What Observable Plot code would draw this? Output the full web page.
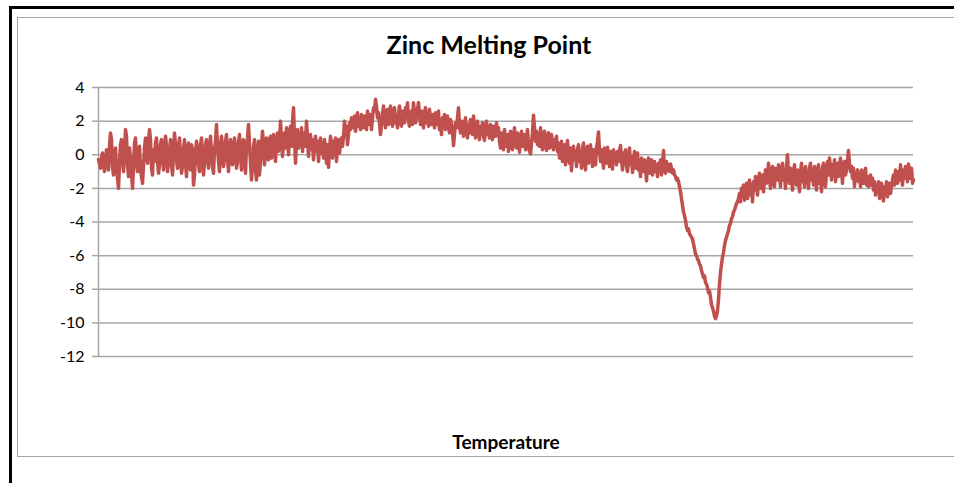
<!DOCTYPE html>
<html>
<head>
<meta charset="utf-8">
<script src="https://cdn.jsdelivr.net/npm/d3@7"></script>
<script src="https://cdn.jsdelivr.net/npm/@observablehq/plot@0.6"></script>
<style>
  html, body { margin: 0; padding: 0; background: #fff; }
  #wrap { position: relative; width: 954px; height: 483px; overflow: hidden; font-family: Lato, "Open Sans", sans-serif; }
  #wrap svg { position: absolute; left: 0; top: 0; }
  .edge { position: absolute; }
  #title { position: absolute; left: 0; width: 978px; top: 29px; text-align: center; font-weight: 700; font-size: 25px; color: #000; }
  #xlabel { position: absolute; left: 0; width: 1012px; top: 430px; text-align: center; font-weight: 700; font-size: 19px; color: #000; }
</style>
</head>
<body>
<div id="wrap">
  <div class="edge" style="left:9px;top:6px;width:960px;height:3px;background:#000"></div>
  <div class="edge" style="left:9px;top:6px;width:3px;height:480px;background:#000"></div>
  <div class="edge" style="left:17px;top:17px;width:960px;height:440px;border:1.5px solid #a6a6a6;box-sizing:border-box"></div>
  <div id="chart"></div>
  <div id="title">Zinc Melting Point</div>
  <div id="xlabel">Temperature</div>
</div>
<script>
// Heat-flow signal recorded while heating a zinc sample (one reading per step)
const signal = [
  -0.3, -0.5, -0.8, -0.2, 0.1, -0.6, -1.0, -0.4, 0.3, -0.2, -0.9, 0.5, 1.3, 0.9, -0.7, -1.2, -0.3, 0.4, -0.8, -1.4,
  -2.0, -0.5, 0.6, 0.9, -0.3, -1.0, 0.2, 1.5, 1.1, -0.6, -1.3, 0.4, -0.2, -1.1, -2.0, -0.8, 0.7, 1.0, -0.4, -1.0,
  -0.2, 0.5, -0.9, -1.3, -1.7, -0.6, 0.4, 1.0, 0.2, -0.5, 0.8, 1.5, 0.9, -0.8, -1.2, 0.3, -0.4, 0.7, 1.0, -0.3,
  -1.1, -0.6, 0.6, 0.9, -0.2, -0.9, 0.4, 1.1, 0.5, -1.0, -0.4, 0.2, 0.9, -0.6, -1.2, 0.1, 1.3, 0.6, -0.3, -0.8,
  0.5, 1.0, -0.2, -1.1, -0.7, 0.4, 0.9, -0.5, -1.3, 0.2, 0.7, -0.4, -0.9, 0.6, 0.3, -1.8, -1.2, 0.1, 0.8, 0.4,
  -0.6, -1.0, 0.5, 1.0, -0.3, -1.2, -0.5, 0.6, 0.9, -0.2, -0.8, 0.4, 1.1, 0.2, -0.7, -1.1, 0.3, 0.8, 1.8, 0.5,
  -0.4, -1.0, 0.6, 1.1, 0.2, -0.7, -0.2, 0.8, 1.2, -0.3, -1.0, 0.1, 0.9, 0.5, -0.6, -0.1, 1.0, 0.3, -0.8, -0.4,
  0.7, 1.2, 0.0, -0.9, 0.4, 0.9, -0.3, -1.1, 0.5, 1.0, 1.8, 0.6, -0.5, -1.5, -0.6, 0.5, 0.9, -0.9, -1.5, 0.2,
  0.8, -1.2, -0.4, 0.6, 1.4, 0.7, -0.6, 0.2, 1.0, 0.4, -0.3, 0.9, 1.1, -0.2, 0.5, 1.2, 0.3, -0.4, 0.8, 1.3,
  0.2, 0.7, 2.0, 0.9, -0.1, 0.6, 1.3, 0.4, 1.6, 0.8, 0.0, 1.2, 1.7, 0.5, 1.9, 2.8, 1.0, -0.5, 0.8, 1.5,
  0.4, 1.1, 0.6, 1.6, 0.2, 0.9, 1.3, 0.5, 2.0, 1.0, -0.1, 0.7, 1.2, 0.3, 0.9, -0.3, 0.6, 1.1, 0.2, 0.8,
  -0.4, 0.5, 1.0, 0.1, 0.7, -0.2, 0.9, 0.4, -0.5, 0.6, -0.75, 0.3, 1.1, 0.5, -0.2, 0.8, 0.2, 1.0, -0.4, 0.5,
  0.9, 0.1, 0.7, 1.0, 0.5, 1.1, 2.0, 1.4, 1.7, 0.6, 1.2, 1.9, 1.5, 2.2, 1.6, 1.9, 2.3, 1.4, 2.0, 2.5,
  1.7, 2.2, 1.5, 2.4, 1.9, 1.6, 2.3, 2.0, 1.5, 2.6, 2.1, 1.8, 2.4, 1.5, 2.2, 2.8, 2.6, 3.3, 2.9, 2.2,
  2.5, 1.9, 1.2, 1.8, 2.4, 2.9, 2.1, 1.6, 2.3, 2.7, 1.8, 2.2, 2.9, 2.0, 1.7, 2.5, 2.8, 1.9, 2.2, 1.6,
  2.4, 2.9, 2.0, 1.7, 2.6, 2.2, 1.9, 2.8, 2.4, 3.1, 2.0, 1.7, 2.3, 2.6, 1.8, 3.1, 2.5, 1.9, 2.2, 2.7,
  3.1, 2.4, 1.8, 2.6, 2.1, 1.6, 2.5, 2.8, 1.9, 2.3, 1.7, 2.7, 2.2, 1.8, 2.4, 2.0, 1.6, 2.5, 2.1, 1.8,
  2.6, 1.5, 1.9, 1.2, 2.2, 1.7, 2.4, 1.5, 1.9, 2.3, 1.6, 1.3, 2.1, 1.8, 1.4, 0.55, 1.2, 1.9, 1.6, 2.2,
  2.8, 1.7, 1.3, 2.0, 1.5, 1.1, 1.9, 2.2, 1.4, 1.0, 1.8, 1.3, 2.1, 1.6, 1.2, 2.3, 1.7, 1.0, 1.6, 2.0,
  1.3, 0.9, 1.7, 1.4, 1.9, 1.1, 0.85, 1.6, 2.0, 1.2, 1.5, 1.0, 1.8, 1.3, 0.9, 1.7, 1.4, 1.1, 1.9, 1.2,
  1.6, 0.8, 0.4, 1.3, 1.0, 0.3, 1.5, 0.9, 0.5, 1.2, 0.2, 0.8, 1.4, 0.6, 0.3, 1.1, 1.6, 0.7, 0.4, 1.3,
  0.9, 0.15, 1.0, 1.4, 0.5, 0.8, 1.2, 0.3, 0.9, 1.5, 0.6, 0.2, 0.05, 0.7, 1.3, 2.35, 1.6, 0.8, 1.4, 0.6,
  1.2, 0.5, 1.6, 0.9, 0.3, 1.1, 1.4, 0.6, 0.25, 1.0, 1.3, 0.4, 0.8, 1.2, 0.5, 0.3, 0.9, 0.6, 1.1, 0.2,
  0.7, -0.2, 0.4, 0.8, -0.4, 0.1, 0.6, -0.6, 0.3, 0.85, -0.1, -0.5, 0.4, -0.95, 0.0, 0.5, -0.3, 0.2, -0.7, 0.3,
  0.6, -0.4, 0.1, -0.8, 0.4, 0.7, -0.3, -0.9, 0.2, 0.5, -0.5, 0.0, 0.6, -0.2, -0.7, 0.3, 0.1, -0.6, 0.4, 0.8,
  1.35, 0.2, -0.4, 0.3, -0.2, -0.8, 0.4, 0.1, -0.5, 0.45, -0.1, -0.7, 0.2, -0.3, -0.85, 0.3, -0.2, 0.1, -0.6, 0.2,
  -0.4, 0.2, 0.55, -0.3, -0.9, 0.1, -0.5, 0.3, -0.7, -1.0, -0.2, 0.4, -0.6, -0.1, -1.05, -0.4, 0.2, -0.8, -0.3, 0.1,
  -0.9, -0.5, -1.3, -0.2, -0.7, -1.0, -0.3, -0.8, -1.55, -0.5, -0.2, -1.1, -0.6, -0.3, -1.2, -0.8, -0.4, -1.0, -0.6, -1.3,
  -0.5, -0.9, -0.3, -1.2, -0.6, 0.25, -0.8, -1.1, -0.4, -0.9, -0.6, -1.0, -0.55, -0.8, -1.1, -0.9, -1.2, -1.3, -1.5, -1.4,
  -1.6, -1.9, -2.2, -2.6, -3.0, -3.4, -3.6, -3.9, -4.3, -4.5, -4.4, -4.7, -4.8, -4.9, -5.0, -5.3, -5.6, -5.9, -6.0, -6.2,
  -6.3, -6.5, -6.6, -6.9, -7.1, -7.3, -7.2, -7.6, -7.7, -7.9, -8.2, -8.1, -8.5, -8.9, -9.1, -9.3, -9.6, -9.75, -9.6, -9.3,
  -8.6, -7.7, -7.0, -6.5, -6.1, -5.8, -5.4, -5.1, -4.9, -4.7, -4.5, -4.2, -4.1, -3.8, -3.7, -3.4, -3.3, -3.1, -2.9, -2.8,
  -2.6, -2.3, -2.8, -2.0, -2.5, -1.8, -2.7, -2.2, -1.7, -2.6, -2.0, -1.5, -2.4, -1.8, -2.8, -1.6, -2.1, -1.3, -1.9, -2.4,
  -1.4, -1.1, -2.0, -1.6, -1.2, -2.2, -1.5, -0.9, -1.7, -1.3, -0.5, -1.4, -2.0, -1.0, -0.7, -1.6, -1.9, -0.8, -1.2, -1.5,
  -0.6, -1.3, -1.9, -0.9, -0.5, -1.5, -1.1, -2.0, -0.7, 0.0, -1.2, -1.7, -0.8, -1.4, -2.1, -1.0, -0.6, -1.5, -1.8, -0.9,
  -1.3, -2.2, -1.1, -0.5, -1.6, -1.0, -1.9, -0.7, -1.4, -1.1, -2.0, -0.8, -0.5, -1.5, -1.2, -1.8, -0.7, -1.3, -2.1, -1.0,
  -0.6, -1.7, -1.2, -2.2, -0.8, -0.5, -1.4, -1.9, -1.0, -0.4, -1.2, -0.2, -0.8, -1.5, -0.6, -1.1, -0.3, -1.6, -0.9, -0.5,
  -1.3, -0.7, -0.2, -1.0, -1.7, -0.6, -0.4, -1.2, -0.9, -0.3, 0.25, -0.5, -1.0, -0.7, -1.4, -0.8, -1.9, -1.1, -1.5, -0.9,
  -1.6, -1.1, -1.9, -0.9, -1.4, -1.7, -1.2, -0.8, -1.8, -1.3, -1.9, -1.5, -1.2, -1.8, -1.4, -2.1, -1.6, -2.4, -1.9, -2.2,
  -1.6, -2.6, -2.0, -1.7, -2.3, -2.75, -1.9, -2.2, -1.6, -2.5, -2.0, -1.7, -2.3, -1.9, -1.5, -1.2, -1.8, -0.9, -1.4, -1.7,
  -1.0, -1.5, -0.6, -1.3, -1.8, -0.9, -1.4, -0.7, -1.2, -1.6, -0.55, -1.0, -1.4, -0.8, -1.7, -1.5
];

// Value axis ticks
const yTicks = [4, 2, 0, -2, -4, -6, -8, -10, -12];

const steps = signal.map((_, i) => i);

const chart = Plot.plot({
  width: 954,
  height: 483,
  marginLeft: 98,
  marginRight: 41,
  marginTop: 87,
  marginBottom: 127,
  style: { background: "transparent", fontFamily: "Lato, 'Open Sans', sans-serif" },
  x: { domain: [0, signal.length - 1], axis: null },
  y: { domain: [-12, 4] },
  marks: [
    Plot.ruleY(yTicks, { stroke: "#a6a6a6", strokeWidth: 1.5 }),
    Plot.ruleX([0], { y1: -12, y2: 4, stroke: "#a6a6a6", strokeWidth: 1.5 }),
    Plot.axisY(yTicks, {
      ticks: yTicks,
      tickSize: 6,
      tickPadding: 8,
      stroke: "#a6a6a6",
      strokeWidth: 1.5,
      fill: "#000",
      fontSize: 16,
      label: null,
      tickFormat: d => d < 0 ? "-" + Math.abs(d) : String(d)
    }),
    Plot.line(steps, { x: d => d, y: d => signal[d], stroke: "#c0504d", strokeWidth: 3.5, strokeLinejoin: "round" })
  ]
});
document.getElementById("chart").appendChild(chart);
</script>
</body>
</html>
